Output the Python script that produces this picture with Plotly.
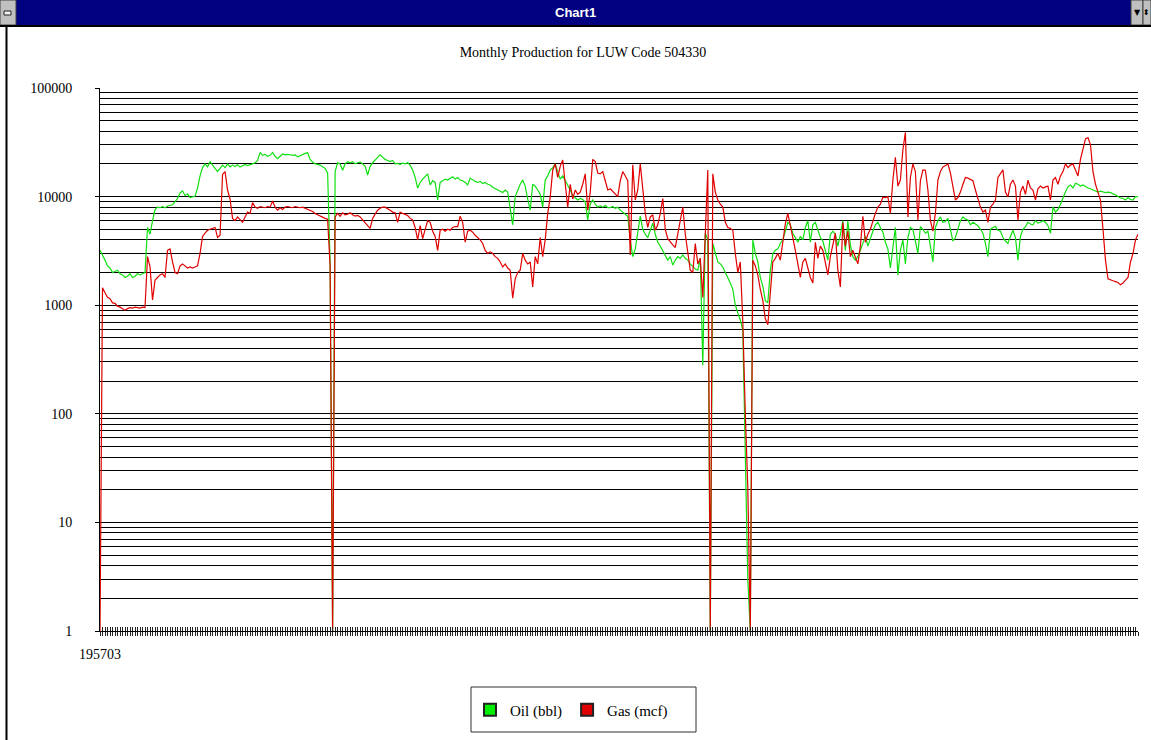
import plotly.graph_objects as go

# ---------------- data ----------------
START_YEAR, START_MONTH = 1957, 3

oil_bbl = [
    3200, 2900, 2600, 2300, 2200, 2000, 2050, 2100, 1950, 1900,
    1800, 1850, 1950, 1800, 1850, 1950, 1900, 1950, 2000, 5200,
    4500, 6000, 7600, 8000, 7900, 8100, 7900, 8200, 8300, 8400,
    9000, 9600, 10800, 11300, 10200, 10600, 9800, 10000, 10100, 12000,
    15500, 18500, 20000, 18800, 21000, 19500, 18000, 17000, 18200, 19500,
    18500, 20000, 18800, 19500, 18900, 19600, 18700, 19200, 19800, 19300,
    19500, 20000, 20500, 21500, 25500, 24000, 24500, 23500, 24000, 25500,
    23500, 22300, 23500, 24700, 24200, 24500, 24300, 24000, 24200, 23200,
    23800, 24500, 25000, 25300, 22000, 20800, 20000, 19800, 19500, 18800,
    18200, 16500, 2500, 1, 17000, 20500, 20000, 17500, 20000, 21000,
    20500, 21000, 20000, 20500, 20800, 20000, 19000, 15800, 19000, 20500,
    22000, 23000, 24200, 23000, 22000, 21500, 21000, 21500, 20000, 20200,
    19800, 20300, 20000, 20500, 19500, 17600, 15000, 12000, 13500, 14500,
    15500, 16200, 12800, 14000, 13500, 9300, 13500, 14000, 14500, 14200,
    14800, 15200, 14500, 15000, 14200, 14000, 13500, 12800, 14800, 14200,
    13800, 13500, 13800, 13200, 13500, 13000, 12800, 12200, 11800, 11500,
    11200, 10900, 11500, 11000, 8000, 5500, 10000, 11500, 13000, 14200,
    12500, 9500, 7500, 13000, 12500, 11500, 10500, 8000, 14200, 15500,
    17600, 18500, 20000, 17000, 14500, 15500, 14000, 13000, 11500, 10200,
    9800, 9300, 9600, 9400, 8900, 6100, 8500, 9300, 8500, 8000,
    8200, 8000, 8300, 7900, 7900, 8100, 7800, 8000, 7500, 7200,
    6900, 6600, 4000, 2800, 3300, 4800, 6600, 5000, 4500, 4200,
    5000, 5700, 4500, 3800, 3500, 3200, 2900, 2600, 2800, 2340,
    2600, 2800, 2700, 2900, 2700, 2600, 2400, 2250, 2150, 2100,
    2700, 280, 4600, 4000, 1, 3700, 3000, 2500, 2400, 2250,
    2000, 1800, 1600, 1400, 1000, 850, 730, 590, 30, 3,
    1, 4000, 3000, 2500, 1800, 1500, 1100, 1050, 2100, 3000,
    3200, 3300, 3700, 4000, 4800, 5800, 5500, 4600, 4200, 3800,
    4300, 4000, 5200, 6000, 3800, 5500, 5800, 4800, 4200, 3900,
    3200, 2600, 4500, 4800, 4500, 3500, 4500, 6000, 3200, 6000,
    3600, 2800, 2600, 2800, 3200, 3800, 4300, 3500, 4200, 4800,
    5500, 5800, 5200, 4700, 3800, 3300, 2200, 3200, 5200, 1900,
    3200, 4000, 2400, 4200, 5200, 5000, 3800, 3000, 5300, 5000,
    4600, 4800, 3500, 2500, 5200, 6000, 6500, 5800, 5900, 6300,
    5000, 3900, 4200, 5000, 6000, 6500, 6200, 6100, 5500, 5800,
    5600, 5400, 5000, 4600, 3700, 2800, 5000, 5200, 5300, 4900,
    4800, 4200, 3900, 3700, 4300, 4900, 4200, 2600, 4300, 5000,
    5300, 5800, 5600, 5500, 6000, 5700, 5800, 6000, 5800, 5400,
    4600, 8000, 7200, 7600, 8500, 9900, 11000, 12300, 12800, 12000,
    13300, 13000, 12500, 12800, 12300, 12000, 11800, 11500, 11300, 11000,
    11200, 11000, 10900, 11000, 10900, 10600, 10400, 10000, 9700, 9600,
    9300, 9800, 9400, 9300, 10000, 10000,
]

gas_mcf = [
    1, 1450, 1300, 1180, 1150, 1050, 1040, 980, 960, 920,
    900, 930, 950, 940, 960, 950, 940, 960, 950, 2800,
    2250, 1120, 1700, 1800, 1900, 1950, 1800, 3200, 3300, 2500,
    2000, 1950, 2300, 2400, 2300, 2200, 2250, 2200, 2250, 2300,
    3000, 4300, 4600, 4900, 5000, 5100, 5200, 4200, 4400, 16000,
    17000, 11500, 9500, 6300, 6000, 6500, 6200, 5800, 6500, 7200,
    7000, 8800, 8000, 7800, 8100, 8000, 7900, 8100, 8000, 9100,
    8000, 7500, 7900, 7600, 8000, 8100, 8000, 7900, 8100, 8000,
    7900, 8000, 7800, 7700, 7500, 7300, 7000, 6800, 6600, 6500,
    6300, 6200, 2300, 1, 6500, 7000, 6600, 7100, 6800, 6900,
    7100, 6800, 6600, 6700, 6500, 6100, 5800, 5400, 5100, 6300,
    6900, 7500, 7800, 8000, 8000, 7800, 7500, 7200, 7100, 5800,
    7200, 7000, 6800, 6700, 6300, 6100, 5200, 4000, 5400, 4100,
    5000, 6000, 5800, 4800, 4300, 3200, 4900, 5000, 4800, 5000,
    4900, 5200, 5300, 5300, 6600, 5800, 3800, 4800, 4900, 4700,
    4400, 4200, 4000, 3700, 3200, 3000, 3100, 3000, 2800, 2700,
    2500, 2250, 2400, 2200, 2100, 1160, 1750, 2000, 2100, 3000,
    2600, 2400, 2500, 1470, 2800, 2400, 4200, 2800, 4000, 7000,
    9900, 17600, 20000, 15000, 19000, 21700, 12500, 8000, 13000, 9500,
    11500, 10500, 11000, 13000, 16200, 7500, 11000, 22000, 21000, 16500,
    16200, 17000, 14000, 11500, 11800, 11200, 10500, 10000, 14000, 17000,
    15500, 14000, 2900, 19600, 9300, 11500, 20000, 12000, 7000, 5200,
    6500, 6800, 4900, 5500, 7000, 9600, 5000, 4100, 3800, 3600,
    3400, 4500, 5700, 8000, 4500, 3000, 2100, 2000, 3700, 2400,
    2700, 1180, 4500, 17600, 1, 16200, 11000, 9300, 8500, 8000,
    5800, 5200, 5100, 4900, 3000, 2000, 2500, 700, 100, 21,
    1, 2600, 2300, 1900, 1400, 1100, 750, 660, 1300, 2500,
    2700, 3000, 2600, 4000, 5600, 7000, 5600, 4200, 3200, 2400,
    1800, 2500, 2700, 2200, 1800, 1600, 3800, 2700, 3500, 3200,
    2400, 1900, 2800, 3500, 4600, 2100, 1470, 5800, 3500, 4800,
    2800, 3200, 2700, 2400, 3500, 6600, 3800, 4500, 5000, 6000,
    7000, 8000, 8500, 9900, 9800, 10000, 7000, 14200, 23000, 12500,
    14200, 27000, 39000, 6500, 15000, 20000, 17000, 6100, 14000, 17600,
    17500, 11500, 6000, 4800, 7000, 14200, 17000, 18700, 19500, 20000,
    16500, 12500, 9300, 9800, 11000, 13000, 15000, 14800, 14500, 14000,
    11500, 9500, 8000, 7200, 7500, 5800, 8000, 8500, 9300, 15000,
    16500, 17600, 11000, 9900, 13000, 14200, 12500, 6100, 11000, 12500,
    10500, 14200, 12000, 11500, 9300, 11800, 12500, 12000, 12300, 12500,
    9300, 14200, 15000, 13000, 15500, 17000, 20000, 18500, 19500, 20000,
    17600, 15500, 22000, 27000, 34000, 35000, 30000, 17000, 13000, 11000,
    9300, 5000, 2600, 1750, 1700, 1680, 1650, 1620, 1540, 1600,
    1700, 1800, 2500, 3000, 4000, 4500,
]

# month categories (YYYYMM) starting at 195703
months = []
_y, _m = START_YEAR, START_MONTH
for _ in range(len(oil_bbl)):
    months.append(f"{_y}{_m:02d}")
    _m += 1
    if _m > 12:
        _m = 1
        _y += 1

first_label = months[0]
y_major = [1, 10, 100, 1000, 10000, 100000]
y_minor = [d * 10 ** k for k in range(5) for d in range(2, 10)]

OIL_COLOR = "#10e010"
GAS_COLOR = "#e00000"
SERIF = "Liberation Serif, Times New Roman, serif"

# ---------------- geometry helpers (page pixels -> paper) ----------------
W, H = 1151, 740
L, R, T, B = 100, 13, 88, 109
PW, PH = W - L - R, H - T - B


def px(x):
    return (x - L) / PW


def py(y):
    return (H - B - y) / PH


fig = go.Figure()

fig.add_trace(go.Scatter(
    x=months, y=oil_bbl, mode="lines", name="Oil (bbl)",
    line=dict(color=OIL_COLOR, width=1.2), showlegend=False,
    xaxis="x", yaxis="y",
))
fig.add_trace(go.Scatter(
    x=months, y=gas_mcf, mode="lines", name="Gas (mcf)",
    line=dict(color=GAS_COLOR, width=1.2), showlegend=False,
    xaxis="x2", yaxis="y",
))
# legend swatches
fig.add_trace(go.Scatter(
    x=[None], y=[None], mode="markers", name="Oil (bbl)",
    marker=dict(symbol="square", size=12, color="#00ee00",
                line=dict(color="#222", width=1)),
))
fig.add_trace(go.Scatter(
    x=[None], y=[None], mode="markers", name="Gas (mcf)",
    marker=dict(symbol="square", size=12, color="#e00000",
                line=dict(color="#222", width=1)),
))

ticktext_x = [first_label] + [""] * (len(months) - 1)

fig.update_layout(
    width=W, height=H, autosize=False,
    margin=dict(l=L, r=R, t=T, b=B, pad=0),
    paper_bgcolor="white", plot_bgcolor="white",
    font=dict(family=SERIF, size=14, color="black"),
    title=dict(
        text="Monthly Production for LUW Code 504330",
        xref="container", yref="container",
        x=583 / W, y=1 - 52 / H, xanchor="center", yanchor="middle",
        font=dict(family=SERIF, size=14, color="black"),
    ),
    xaxis=dict(
        type="category", categoryorder="array", categoryarray=months,
        range=[0, len(months) - 1],
        tickmode="array", tickvals=months, ticktext=ticktext_x,
        ticks="outside", ticklen=4, tickwidth=1, tickcolor="#222",
        showgrid=False, zeroline=False,
        showline=True, linecolor="black", linewidth=1,
        tickangle=0, ticklabelstandoff=6,
        tickfont=dict(family=SERIF, size=14, color="black"),
        fixedrange=True,
    ),
    xaxis2=dict(
        type="category", categoryorder="array", categoryarray=months,
        range=[0, len(months) - 1], overlaying="x", anchor="y", side="bottom",
        tickmode="array", tickvals=months, ticktext=[""] * len(months),
        ticks="inside", ticklen=4, tickwidth=1, tickcolor="#222",
        showgrid=False, zeroline=False, showline=False, showticklabels=False,
        fixedrange=True,
    ),
    yaxis=dict(
        type="log", range=[0, 5],
        tickmode="array", tickvals=y_major,
        ticktext=[str(v) for v in y_major],
        ticks="outside", ticklen=4, tickcolor="black",
        showgrid=True, gridcolor="black", gridwidth=1,
        minor=dict(tickmode="array", tickvals=y_minor, showgrid=True,
                   gridcolor="black", gridwidth=1, ticks=""),
        showline=True, linecolor="black", linewidth=1,
        zeroline=False, ticklabelstandoff=20,
        tickfont=dict(family=SERIF, size=14, color="black"),
        fixedrange=True,
    ),
    legend=dict(
        orientation="h", xref="container", yref="container",
        x=470 / W, y=1 - 710 / H, xanchor="left", yanchor="middle",
        bgcolor="rgba(0,0,0,0)", borderwidth=0,
        font=dict(family=SERIF, size=15, color="black"),
        itemsizing="constant", traceorder="normal",
    ),
    showlegend=True,
)

# ---------------- window chrome & legend box ----------------
shapes = [
    # title bar
    dict(type="rect", xref="paper", yref="paper",
         x0=px(16), x1=px(1131), y0=py(25), y1=py(0),
         fillcolor="#000080", line=dict(width=0), layer="above"),
    # system menu box
    dict(type="rect", xref="paper", yref="paper",
         x0=px(0), x1=px(16), y0=py(25), y1=py(0),
         fillcolor="#c0c0c0", line=dict(color="#404040", width=1), layer="above"),
    dict(type="rect", xref="paper", yref="paper",
         x0=px(4), x1=px(11), y0=py(15), y1=py(11),
         fillcolor="#f0f0f0", line=dict(color="#202020", width=1), layer="above"),
    # right buttons
    dict(type="rect", xref="paper", yref="paper",
         x0=px(1131), x1=px(1143), y0=py(25), y1=py(0),
         fillcolor="#c0c0c0", line=dict(color="#404040", width=1), layer="above"),
    dict(type="rect", xref="paper", yref="paper",
         x0=px(1143), x1=px(1151), y0=py(25), y1=py(0),
         fillcolor="#c0c0c0", line=dict(color="#404040", width=1), layer="above"),
    # bottom edge of title bar
    dict(type="line", xref="paper", yref="paper",
         x0=px(0), x1=px(1151), y0=py(26), y1=py(26),
         line=dict(color="black", width=2), layer="above"),
    # window left border
    dict(type="line", xref="paper", yref="paper",
         x0=px(6.5), x1=px(6.5), y0=py(26), y1=py(740),
         line=dict(color="black", width=2), layer="above"),
    # legend frame
    dict(type="rect", xref="paper", yref="paper",
         x0=px(471), x1=px(696), y0=py(732), y1=py(687),
         fillcolor="rgba(0,0,0,0)", line=dict(color="#303030", width=1),
         layer="above"),
]
fig.update_layout(shapes=shapes)

fig.add_annotation(
    text="<b>Chart1</b>", xref="paper", yref="paper",
    x=px(575), y=py(12.5), xanchor="center", yanchor="middle",
    showarrow=False,
    font=dict(family="Liberation Sans Narrow, Liberation Sans, Arial, sans-serif",
              size=13, color="white"),
)
fig.add_annotation(
    text="▼", xref="paper", yref="paper",
    x=px(1137), y=py(12.5), xanchor="center", yanchor="middle",
    showarrow=False, font=dict(family="DejaVu Sans", size=8, color="black"),
)
fig.add_annotation(
    text="⬍", xref="paper", yref="paper",
    x=px(1146.5), y=py(12.5), xanchor="center", yanchor="middle",
    showarrow=False, font=dict(family="DejaVu Sans", size=8, color="black"),
)

fig.write_html(
    "out.html",
    config={"displayModeBar": False},
    post_script="document.body.style.margin='0';document.body.style.padding='0';"
                "document.documentElement.style.overflow='hidden';",
)
